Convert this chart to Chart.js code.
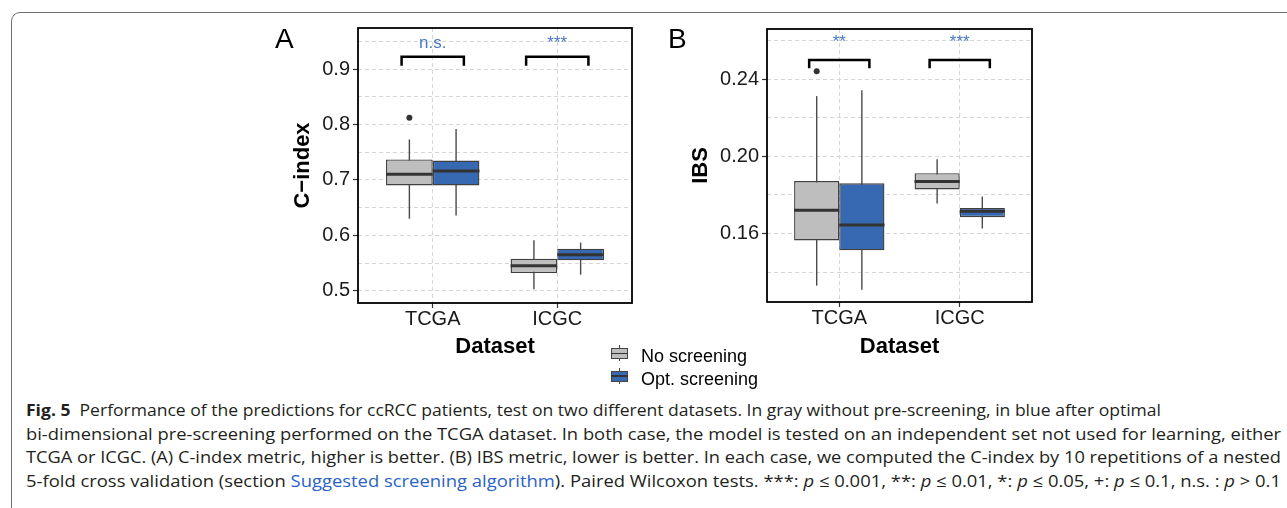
<!DOCTYPE html>
<html>
<head>
<meta charset="utf-8">
<script src="https://cdn.jsdelivr.net/npm/chart.js@4.4.1/dist/chart.umd.min.js"></script>
<style>
  html, body { margin: 0; padding: 0; background: #fff; }
  body { width: 1287px; height: 508px; position: relative; overflow: hidden; font-family: 'Liberation Sans', Arial, sans-serif; }
  .frame { position: absolute; left: 11px; top: 12px; width: 1400px; height: 600px; border: 1.5px solid #6f6f6f; border-radius: 9px; box-sizing: border-box; }
  canvas { position: absolute; }
  #chartA { left: 270px; top: 20px; }
  #chartB { left: 660px; top: 20px; }
  .panel-letter { position: absolute; font-size: 28px; line-height: 28px; color: #000; }
  .legend-text { position: absolute; left: 641px; font-size: 18px; line-height: 18px; color: #000; white-space: nowrap; }
  .key { position: absolute; left: 611px; width: 17px; height: 16px; }
  .key .whisker { position: absolute; left: 8px; top: 0; width: 1px; height: 16px; background: #444; }
  .key .box { position: absolute; left: 0; top: 3px; width: 17px; height: 11px; border: 1px solid #444; box-sizing: border-box; }
  .key .med { position: absolute; left: 0; top: 7.5px; width: 17px; height: 1.6px; background: #333; }
  .cap-line { position: absolute; left: 26px; white-space: nowrap; font-family: 'Open Sans', 'Noto Sans', sans-serif; font-size: 16.5px; line-height: 23.5px; color: #231f20; transform-origin: 0 0; }
  .cap-line .link { color: #2a62c9; }
</style>
</head>
<body>
<div class="frame"></div>

<canvas id="chartA" width="370" height="340"></canvas>
<canvas id="chartB" width="380" height="340"></canvas>

<div class="panel-letter" style="left:275px; top:25px;">A</div>
<div class="panel-letter" style="left:668px; top:25px;">B</div>

<div class="key" style="top:345px;"><div class="whisker"></div><div class="box" style="background:#bebebe;"></div><div class="med"></div></div>
<div class="legend-text" style="top:347px;">No screening</div>
<div class="key" style="top:367.5px;"><div class="whisker"></div><div class="box" style="background:#3669b1;"></div><div class="med"></div></div>
<div class="legend-text" style="top:370px;">Opt. screening</div>

<div class="cap-line" data-w="1135" style="top:398px;"><b>Fig. 5</b>&nbsp;&nbsp;Performance of the predictions for ccRCC patients, test on two different datasets. In gray without pre-screening, in blue after optimal</div>
<div class="cap-line" data-w="1255" style="top:422px;">bi-dimensional pre-screening performed on the TCGA dataset. In both case, the model is tested on an independent set not used for learning, either</div>
<div class="cap-line" data-w="1255" style="top:445px;">TCGA or ICGC. (A) C-index metric, higher is better. (B) IBS metric, lower is better. In each case, we computed the C-index by 10 repetitions of a nested</div>
<div class="cap-line" data-w="1255" style="top:469px;">5-fold cross validation (section <span class="link">Suggested screening algorithm</span>). Paired Wilcoxon tests. ***: <i>p</i> &le; 0.001, **: <i>p</i> &le; 0.01, *: <i>p</i> &le; 0.05, +: <i>p</i> &le; 0.1, n.s. : <i>p</i> &gt; 0.1</div>

<script>
// 데이터
const categories = ['TCGA', 'ICGC'];
const groups = ['No screening', 'Opt. screening'];

// [lower whisker, Q1, median, Q3, upper whisker] per category
const cIndexNoScreening  = [[0.630, 0.690, 0.710, 0.737, 0.773], [0.503, 0.532, 0.545, 0.558, 0.591]];
const cIndexOptScreening = [[0.636, 0.690, 0.716, 0.735, 0.792], [0.529, 0.555, 0.565, 0.576, 0.587]];
const cIndexOutliersNo   = [[0.812], []];
const cIndexOutliersOpt  = [[], []];

const ibsNoScreening  = [[0.1330, 0.1564, 0.1721, 0.1872, 0.2313], [0.1756, 0.1829, 0.1870, 0.1913, 0.1986]];
const ibsOptScreening = [[0.1309, 0.1513, 0.1645, 0.1861, 0.2343], [0.1626, 0.1685, 0.1716, 0.1733, 0.1792]];
const ibsOutliersNo   = [[0.2442], []];
const ibsOutliersOpt  = [[], []];

const cIndexSignif = ['n.s.', '***'];
const ibsSignif = ['**', '***'];

const cIndexTicks = [0.5, 0.6, 0.7, 0.8, 0.9];
const ibsTicks = [0.16, 0.20, 0.24];

const FONT = "'Liberation Sans', Arial, sans-serif";
const GRAY = '#bebebe';
const BLUE = '#3669b1';

const isMajor = (v, majors) => majors.some(t => Math.abs(t - v) < 1e-9);

// 수염, 중앙값, 이상치, 유의성 괄호
const boxplotExtras = {
    id: 'boxplotExtras',
    beforeDatasetsDraw(chart) {
        const ctx = chart.ctx;
        const yScale = chart.scales.y;
        chart.data.datasets.forEach((ds, di) => {
            chart.getDatasetMeta(di).data.forEach((bar, i) => {
                const s = ds.stats[i];
                ctx.save();
                ctx.strokeStyle = '#4a4a4a';
                ctx.lineWidth = 1.4;
                ctx.beginPath();
                ctx.moveTo(bar.x, yScale.getPixelForValue(s[0]));
                ctx.lineTo(bar.x, yScale.getPixelForValue(s[4]));
                ctx.stroke();
                ctx.restore();
            });
        });
    },
    afterDatasetsDraw(chart, args, opts) {
        const ctx = chart.ctx;
        const xScale = chart.scales.x;
        const yScale = chart.scales.y;
        chart.data.datasets.forEach((ds, di) => {
            chart.getDatasetMeta(di).data.forEach((bar, i) => {
                const yMed = yScale.getPixelForValue(ds.stats[i][2]);
                ctx.save();
                ctx.strokeStyle = '#333';
                ctx.lineWidth = 3;
                ctx.beginPath();
                ctx.moveTo(bar.x - bar.width / 2, yMed);
                ctx.lineTo(bar.x + bar.width / 2, yMed);
                ctx.stroke();
                ctx.fillStyle = '#333';
                ds.outliers[i].forEach(v => {
                    ctx.beginPath();
                    ctx.arc(bar.x, yScale.getPixelForValue(v), 3, 0, Math.PI * 2);
                    ctx.fill();
                });
                ctx.restore();
            });
        });
        opts.labels.forEach((lab, i) => {
            const x0 = xScale.getPixelForValue(i + 1 - opts.halfSpan);
            const x1 = xScale.getPixelForValue(i + 1 + opts.halfSpan);
            const yTop = yScale.getPixelForValue(opts.bracketY);
            const yLeg = yScale.getPixelForValue(opts.legY);
            ctx.save();
            ctx.strokeStyle = '#000';
            ctx.lineWidth = 2.5;
            ctx.beginPath();
            ctx.moveTo(x0, yLeg);
            ctx.lineTo(x0, yTop);
            ctx.lineTo(x1, yTop);
            ctx.lineTo(x1, yLeg);
            ctx.stroke();
            ctx.fillStyle = '#4a78c2';
            ctx.font = '17px ' + FONT;
            ctx.textAlign = 'center';
            ctx.textBaseline = 'alphabetic';
            ctx.fillText(lab, xScale.getPixelForValue(i + 1), yScale.getPixelForValue(opts.labelY));
            ctx.restore();
        });
    },
    afterDraw(chart) {
        const ctx = chart.ctx;
        const a = chart.chartArea;
        ctx.save();
        ctx.strokeStyle = '#000';
        ctx.lineWidth = 1.8;
        ctx.strokeRect(a.left, a.top, a.right - a.left, a.bottom - a.top);
        ctx.restore();
    }
};

function boxDatasets(noStats, optStats, noOut, optOut) {
    const common = { borderColor: '#404040', borderWidth: 1.4, borderSkipped: false, categoryPercentage: 0.75, barPercentage: 1 };
    return [
        Object.assign({ label: groups[0], data: categories.map((c, i) => ({ x: i + 1, y: [noStats[i][1], noStats[i][3]] })),
            stats: noStats, outliers: noOut, backgroundColor: GRAY }, common),
        Object.assign({ label: groups[1], data: categories.map((c, i) => ({ x: i + 1, y: [optStats[i][1], optStats[i][3]] })),
            stats: optStats, outliers: optOut, backgroundColor: BLUE }, common)
    ];
}

function renderBoxChart(id, p) {
    const ctx = document.getElementById(id).getContext('2d');
    return new Chart(ctx, {
        type: 'bar',
        data: { datasets: p.datasets },
        plugins: [boxplotExtras],
        options: {
            responsive: false,
            animation: false,
            devicePixelRatio: 1,
            layout: { padding: { top: p.padTop, right: 8, left: 0, bottom: 0 } },
            plugins: {
                legend: { display: false },
                tooltip: { enabled: false },
                boxplotExtras: p.extras
            },
            scales: {
                x: {
                    type: 'linear',
                    min: 0.4, max: 2.6,
                    offset: false,
                    afterBuildTicks: axis => { axis.ticks = categories.map((c, i) => ({ value: i + 1 })); },
                    afterFit: s => { s.height = p.xHeight; s.paddingLeft = 0; s.paddingRight = 0; },
                    ticks: {
                        callback: v => categories[Math.round(v) - 1],
                        font: { size: 20, family: FONT, lineHeight: 1.1 },
                        color: '#1a1a1a', padding: 0, autoSkip: false, maxRotation: 0
                    },
                    grid: { offset: false, color: '#d6d6d6', lineWidth: 1, tickLength: 5, tickColor: '#333', tickWidth: 1.2 },
                    border: { display: false, dash: [4, 3] },
                    title: { display: true, text: 'Dataset', color: '#000',
                        font: { size: 22, weight: 'bold', family: FONT }, padding: { top: 0, bottom: 0 } }
                },
                y: {
                    min: p.yMin, max: p.yMax,
                    afterFit: s => { s.width = p.yWidth; s.paddingTop = 0; s.paddingBottom = 0; },
                    ticks: {
                        stepSize: p.step,
                        includeBounds: false,
                        autoSkip: false,
                        callback: v => isMajor(v, p.majors) ? v.toFixed(p.decimals) : '',
                        font: { size: 20, family: FONT },
                        color: '#1a1a1a', padding: 3
                    },
                    grid: {
                        color: '#d6d6d6', lineWidth: 1, tickLength: 5, tickWidth: 1.2,
                        tickColor: c => (c.tick && isMajor(c.tick.value, p.majors)) ? '#333' : 'rgba(0,0,0,0)'
                    },
                    border: { display: false, dash: [4, 3] },
                    title: { display: true, text: p.yTitle, color: '#000',
                        font: { size: 22, weight: 'bold', family: FONT }, padding: { top: p.titlePad, bottom: 0 } }
                }
            }
        }
    });
}

renderBoxChart('chartA', {
    datasets: boxDatasets(cIndexNoScreening, cIndexOptScreening, cIndexOutliersNo, cIndexOutliersOpt),
    padTop: 8, xHeight: 57, yWidth: 88, titlePad: 20,
    yMin: 0.478, yMax: 0.974, step: 0.05, majors: cIndexTicks, decimals: 1,
    yTitle: 'C\u2212index',
    extras: { labels: cIndexSignif, bracketY: 0.922, legY: 0.906, labelY: 0.9378, halfSpan: 0.25 }
});

renderBoxChart('chartB', {
    datasets: boxDatasets(ibsNoScreening, ibsOptScreening, ibsOutliersNo, ibsOutliersOpt),
    padTop: 9, xHeight: 58, yWidth: 107, titlePad: 28,
    yMin: 0.1245, yMax: 0.2661, step: 0.02, majors: ibsTicks, decimals: 2,
    yTitle: 'IBS',
    extras: { labels: ibsSignif, bracketY: 0.2500, legY: 0.2457, labelY: 0.2568, halfSpan: 0.25 }
});

// 캡션 줄 너비 맞추기
document.querySelectorAll('.cap-line').forEach(el => {
    const target = +el.dataset.w;
    const w = el.getBoundingClientRect().width;
    el.style.transform = 'scaleX(' + (target / w) + ')';
});
</script>
</body>
</html>
